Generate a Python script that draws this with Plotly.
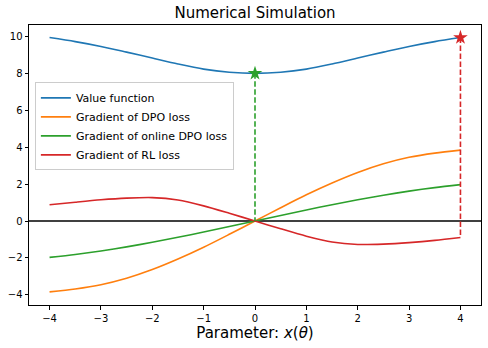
import plotly.graph_objects as go

# parameter grid and curve values
x = [-4, -3.5, -3, -2.5, -2, -1.5, -1, -0.5, 0, 0.5, 1, 1.5, 2, 2.5, 3, 3.5, 4]
value_fn = [9.94, 9.72, 9.46, 9.15, 8.83, 8.51, 8.23, 8.06, 8.00, 8.06, 8.23, 8.51, 8.83, 9.15, 9.46, 9.72, 9.94]
dpo_grad = [-3.84, -3.68, -3.45, -3.10, -2.63, -2.06, -1.42, -0.72, 0.0, 0.72, 1.42, 2.06, 2.63, 3.10, 3.45, 3.68, 3.84]
online_grad = [-1.97, -1.81, -1.62, -1.40, -1.15, -0.88, -0.60, -0.30, 0.0, 0.30, 0.60, 0.88, 1.15, 1.40, 1.62, 1.81, 1.97]
rl_grad = [0.88, 1.02, 1.15, 1.24, 1.27, 1.14, 0.82, 0.42, 0.0, -0.42, -0.82, -1.14, -1.27, -1.25, -1.17, -1.05, -0.89]

names = ['Value function', 'Gradient of DPO loss', 'Gradient of online DPO loss', 'Gradient of RL loss']
colors = ['#1f77b4', '#ff7f0e', '#2ca02c', '#d62728']

font = 'DejaVu Sans'
fig = go.Figure()

for ys, name, c in zip([value_fn, dpo_grad, online_grad, rl_grad], names, colors):
    fig.add_trace(go.Scatter(x=x, y=ys, mode='lines', name=name,
                             line=dict(color=c, width=1.6, shape='spline', smoothing=0.8)))

# zero line
fig.add_hline(y=0, line=dict(color='black', width=1.4), layer='below')

# minimum of value function (x=0) and maximum (x=4)
i0 = x.index(0)
i4 = x.index(4)

fig.add_trace(go.Scatter(x=[x[i0], x[i0]], y=[value_fn[i0], online_grad[i0]], mode='lines',
                         line=dict(color=colors[2], width=1.6, dash='5.5px,2.5px'), showlegend=False))
fig.add_trace(go.Scatter(x=[x[i4], x[i4]], y=[value_fn[i4], rl_grad[i4]], mode='lines',
                         line=dict(color=colors[3], width=1.6, dash='5.5px,2.5px'), showlegend=False))
fig.add_trace(go.Scatter(x=[x[i0]], y=[value_fn[i0]], mode='markers',
                         marker=dict(symbol='star', size=11, color=colors[2]), showlegend=False))
fig.add_trace(go.Scatter(x=[x[i4]], y=[value_fn[i4]], mode='markers',
                         marker=dict(symbol='star', size=11, color=colors[3]), showlegend=False))

axis_style = dict(showgrid=False, zeroline=False, showline=True, mirror=True, automargin=False,
                  linecolor='black', linewidth=1, ticks='outside', ticklen=3.5,
                  tickcolor='black', tickfont=dict(family=font, size=10, color='black'))

fig.update_layout(
    width=488, height=348,
    margin=dict(l=29, r=7, t=25, b=43),
    plot_bgcolor='white', paper_bgcolor='white',
    font=dict(family=font, color='black'),
    title=dict(text='Numerical Simulation', x=0.5, xref='paper', y=1 - 13 / 348,
               yanchor='middle', font=dict(family=font, size=15, color='black')),
    xaxis=dict(range=[-4.4, 4.4], tickmode='array', tickvals=[-4, -3, -2, -1, 0, 1, 2, 3, 4],
               title=dict(text='Parameter: <i>x</i>(<i>θ</i>)', standoff=4,
                          font=dict(family=font, size=15, color='black')),
               **axis_style),
    yaxis=dict(range=[-4.55, 10.62], tickmode='array', tickvals=[-4, -2, 0, 2, 4, 6, 8, 10],
               **axis_style),
    legend=dict(x=0.013, y=0.795, xanchor='left', yanchor='top',
                bgcolor='rgba(255,255,255,0.8)', bordercolor='#cccccc', borderwidth=1,
                font=dict(family=font, size=11, color='black'), tracegroupgap=0),
)

fig.write_html('out.html', config={'displayModeBar': False},
               post_script="document.body.style.margin='0';")
